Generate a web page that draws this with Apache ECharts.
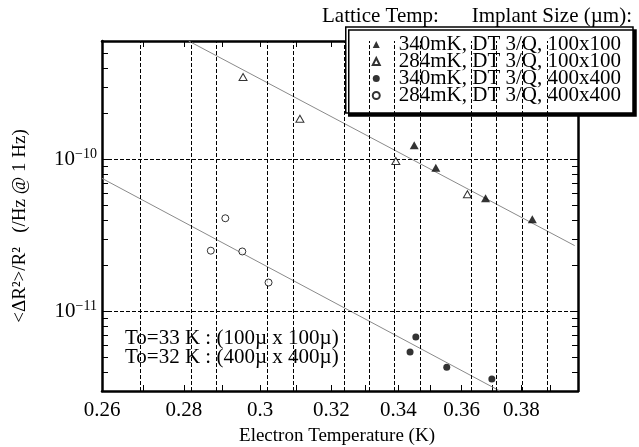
<!DOCTYPE html>
<html><head><meta charset="utf-8">
<script src="https://cdn.jsdelivr.net/npm/echarts@6/dist/echarts.min.js"></script>
<style>html,body{margin:0;padding:0;background:#fff}#c{width:639px;height:447px}</style>
</head><body><div id="c"></div>
<script>
// ---- data ----
const seriesNames = ['340mK, DT 3/Q, 100x100', '284mK, DT 3/Q, 100x100', '340mK, DT 3/Q, 400x400', '284mK, DT 3/Q, 400x400'];
const temp340_100  = [0.3449, 0.3517, 0.3679, 0.3838];
const noise340_100 = [1.24e-10, 8.8e-11, 5.55e-11, 4.04e-11];
const temp284_100  = [0.2954, 0.3110, 0.3392, 0.3619];
const noise284_100 = [3.48e-10, 1.85e-10, 9.75e-11, 5.89e-11];
const temp340_400  = [0.3454, 0.3436, 0.3552, 0.3700];
const noise340_400 = [6.79e-12, 5.42e-12, 4.29e-12, 3.60e-12];
const temp284_400  = [0.2907, 0.2869, 0.2952, 0.3023];
const noise284_400 = [4.10e-11, 2.51e-11, 2.48e-11, 1.55e-11];
// fitted lines (end points)
const fitTemp100  = [0.2812, 0.3988];
const fitNoise100 = [6.0e-10, 2.71e-11];
const fitTemp400  = [0.26, 0.3727];
const fitNoise400 = [7.5e-11, 3.0e-12];
// axes
const xRange = [0.26, 0.40];
const yRange = [3e-12, 6e-10];
const xTickValues  = [0.27, 0.28, 0.29, 0.30, 0.31, 0.32, 0.33, 0.34, 0.35, 0.36, 0.37, 0.38, 0.39];
const xLabelValues = [0.26, 0.28, 0.30, 0.32, 0.34, 0.36, 0.38];
const yTickValues  = [3e-12, 4e-12, 5e-12, 6e-12, 7e-12, 8e-12, 9e-12,
                      1e-11, 2e-11, 3e-11, 4e-11, 5e-11, 6e-11, 7e-11, 8e-11, 9e-11,
                      1e-10, 2e-10, 3e-10, 4e-10, 5e-10];
const yLabelValues = [1e-11, 1e-10];
const headerLeft  = 'Lattice Temp:';
const headerRight = 'Implant Size (µm):';
const noteText = 'To=33 K : (100µ x 100µ)\nTo=32 K : (400µ x 400µ)';
const xName = 'Electron Temperature (K)';
const yName = '<ΔR²>/R²   (/Hz @ 1 Hz)';

// ---- chart ----
const lg = Math.log10;
const FONT = '"Liberation Serif", "Times New Roman", serif';
const pts = (t, n) => t.map((v, i) => [lg(v), lg(n[i])]);

function axisCommon(isX, showLabels) {
  const range = isX ? xRange : yRange;
  return {
    type: 'value',
    min: lg(range[0]), max: lg(range[1]),
    axisLine: { show: true, onZero: false, lineStyle: { color: '#000', width: 2.5 } },
    axisTick: { show: true, inside: true, length: 6, lineStyle: { color: '#000', width: 1 },
      customValues: (isX ? xTickValues : yTickValues).map(lg) },
    splitLine: { show: false },
    axisLabel: showLabels ? (isX ? {
      customValues: xLabelValues.map(lg),
      formatter: v => String(Number(Math.pow(10, v).toFixed(2))),
      fontFamily: FONT, fontSize: 21, color: '#000', margin: 9
    } : {
      customValues: yLabelValues.map(lg),
      formatter: v => '{b|10}{s|−' + Math.round(-v) + '}',
      margin: 5,
      rich: {
        b: { fontFamily: FONT, fontSize: 21, color: '#000' },
        s: { fontFamily: FONT, fontSize: 14, color: '#000', verticalAlign: 'top', padding: [0, 0, 10, 0] }
      }
    }) : { show: false }
  };
}

const gridLines = xTickValues.map(v => ({ xAxis: lg(v) })).concat(yLabelValues.map(v => ({ yAxis: lg(v) })));

const chart = echarts.init(document.getElementById('c'));
chart.setOption({
  animation: false,
  backgroundColor: '#fff',
  grid: { left: 102, right: 61, top: 41, bottom: 56 },
  xAxis: [Object.assign(axisCommon(true, true), { position: 'bottom' }),
          Object.assign(axisCommon(true, false), { position: 'top' })],
  yAxis: [Object.assign(axisCommon(false, true), { position: 'left' }),
          Object.assign(axisCommon(false, false), { position: 'right' })],
  legend: {
    orient: 'vertical', right: 6, top: 27,
    padding: [7, 12, 7, 26], itemGap: -4,
    itemWidth: 7, itemHeight: 7,
    selectedMode: false,
    backgroundColor: '#fff', borderColor: '#000', borderWidth: 1.5,
    shadowColor: '#000', shadowOffsetX: 3, shadowOffsetY: 3, shadowBlur: 0,
    textStyle: { fontFamily: FONT, fontSize: 21, color: '#000', lineHeight: 17, padding: [0, 0, 0, 14] },
    data: seriesNames.map((n, i) => ({ name: n, icon: i < 2 ? 'triangle' : 'circle' }))
  },
  series: [
    { type: 'line', name: 'fit100', data: pts(fitTemp100, fitNoise100), symbol: 'none',
      lineStyle: { color: '#8a8a8a', width: 1 }, z: 1,
      markLine: { silent: true, symbol: ['none', 'none'], label: { show: false }, animation: false,
        lineStyle: { color: '#000', type: [4, 2], width: 1 }, data: gridLines } },
    { type: 'line', name: 'fit400', data: pts(fitTemp400, fitNoise400), symbol: 'none',
      lineStyle: { color: '#8a8a8a', width: 1 }, z: 1 },
    { type: 'scatter', name: seriesNames[0], data: pts(temp340_100, noise340_100),
      symbol: 'triangle', symbolSize: [9, 8], itemStyle: { color: '#000' }, z: 5 },
    { type: 'scatter', name: seriesNames[1], data: pts(temp284_100, noise284_100),
      symbol: 'triangle', symbolSize: [8, 7], itemStyle: { color: '#fff', borderColor: '#000', borderWidth: 1 }, z: 5 },
    { type: 'scatter', name: seriesNames[2], data: pts(temp340_400, noise340_400),
      symbol: 'circle', symbolSize: 7, itemStyle: { color: '#000' }, z: 5 },
    { type: 'scatter', name: seriesNames[3], data: pts(temp284_400, noise284_400),
      symbol: 'circle', symbolSize: 7, itemStyle: { color: '#fff', borderColor: '#000', borderWidth: 1 }, z: 5 }
  ],
  graphic: [
    { type: 'text', left: 322, top: 6, style: { text: headerLeft, font: '21px ' + FONT, fill: '#000' } },
    { type: 'text', right: 7, top: 6, style: { text: headerRight, font: '21px ' + FONT, fill: '#000' } },
    { type: 'text', left: 125, top: 328, z: 10, style: { text: noteText, font: '21px ' + FONT, fill: '#000', lineHeight: 19 } },
    { type: 'text', x: 337, y: 436, style: { text: xName, font: '19px ' + FONT, fill: '#000', align: 'center', verticalAlign: 'middle' } },
    { type: 'text', x: 20, y: 226, rotation: Math.PI / 2, style: { text: yName, font: '19px ' + FONT, fill: '#000', align: 'center', verticalAlign: 'middle' } }
  ]
});
</script></body></html>
